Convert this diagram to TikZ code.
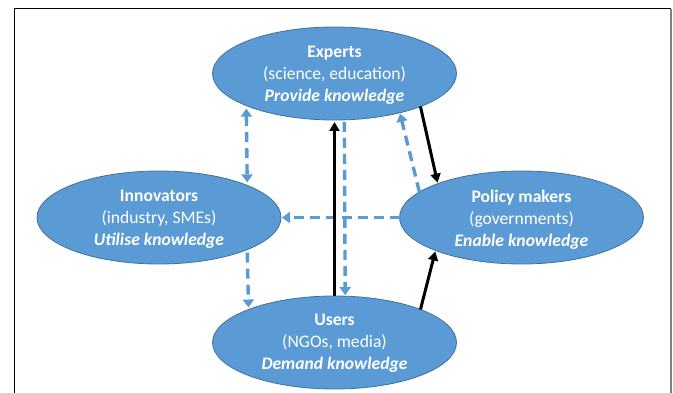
\documentclass[tikz,border=0pt]{standalone}
\usepackage{fontspec}
\setmainfont{Carlito}
\usetikzlibrary{arrows.meta,shapes.geometric}
\definecolor{ellfill}{HTML}{5B9BD5}
\definecolor{elldraw}{HTML}{41719C}
\definecolor{arrblue}{HTML}{5B9BD5}
\begin{document}
\begin{tikzpicture}[x=1pt,y=-1pt,
  actor/.style={ellipse, fill=ellfill, draw=elldraw, line width=0.8pt,
    minimum width=244pt, minimum height=93pt, inner sep=0pt, outer sep=0pt,
    text=white, align=center, font=\fontsize{17.6}{22}\selectfont},
  bluearr/.style={draw=arrblue, line width=3.4pt, dash pattern=on 10pt off 6pt,
    -{Triangle[width=11pt,length=8pt]}},
  bluebi/.style={bluearr, {Triangle[width=11pt,length=8pt]}-{Triangle[width=11pt,length=8pt]}},
  blackarr/.style={draw=black, line width=3pt, -{Triangle[width=10pt,length=9pt]}}
]
\useasboundingbox (0,0) rectangle (673,393);
\draw[black, line width=1pt] (14,393) -- (14,9) -- (671,9);
\draw[gray, line width=1.5pt] (671,9) -- (671,393);

\node[actor] (exp) at (334.5,73.5) {};
\node[actor] (inn) at (159,217.5) {};
\node[actor] (pol) at (521.5,217.5) {};
\node[actor] (usr) at (334.5,342.5) {};
\node[text=white, align=center, font=\fontsize{17.6}{22}\selectfont, inner sep=0pt] (expt) at ([yshift=-1.5pt]exp.center) {\textbf{Experts}\\(science, education)\\\textbf{\textit{Provide knowledge}}};
\node[text=white, align=center, font=\fontsize{17.6}{22}\selectfont, inner sep=0pt] (innt) at ([yshift=-2pt]inn.center) {\textbf{Innovators}\\(industry, SMEs)\\\textbf{\textit{Utilise knowledge}}};
\node[text=white, align=center, font=\fontsize{17.6}{22}\selectfont, inner sep=0pt] (polt) at ([yshift=-2pt]pol.center) {\textbf{Policy makers}\\(governments)\\\textbf{\textit{Enable knowledge}}};
\node[text=white, align=center, font=\fontsize{17.6}{22}\selectfont, inner sep=0pt] (usrt) at ([yshift=-1pt]usr.center) {\textbf{Users}\\(NGOs, media)\\\textbf{\textit{Demand knowledge}}};

\draw[bluebi, shorten <=3pt, shorten >=3pt] (exp.200) -- (inn.20);
\draw[bluearr, shorten <=3pt, shorten >=2pt] (inn.340) -- (usr.159.7);
\draw[bluearr, shorten <=2pt, shorten >=1pt] (exp.282.7) -- (usr.77.3);
\draw[bluearr, shorten >=1pt] (pol.west) -- (inn.east);
\draw[bluearr, shorten >=1pt] (pol.166.8) -- (exp.329.3);
\draw[blackarr, shorten >=2pt] (usr.north) -- (exp.south);
\draw[blackarr, shorten >=1pt] (exp.339) -- (pol.158.9);
\draw[blackarr, shorten >=1pt] (usr.21.4) -- (pol.201.8);
\end{tikzpicture}
\end{document}
